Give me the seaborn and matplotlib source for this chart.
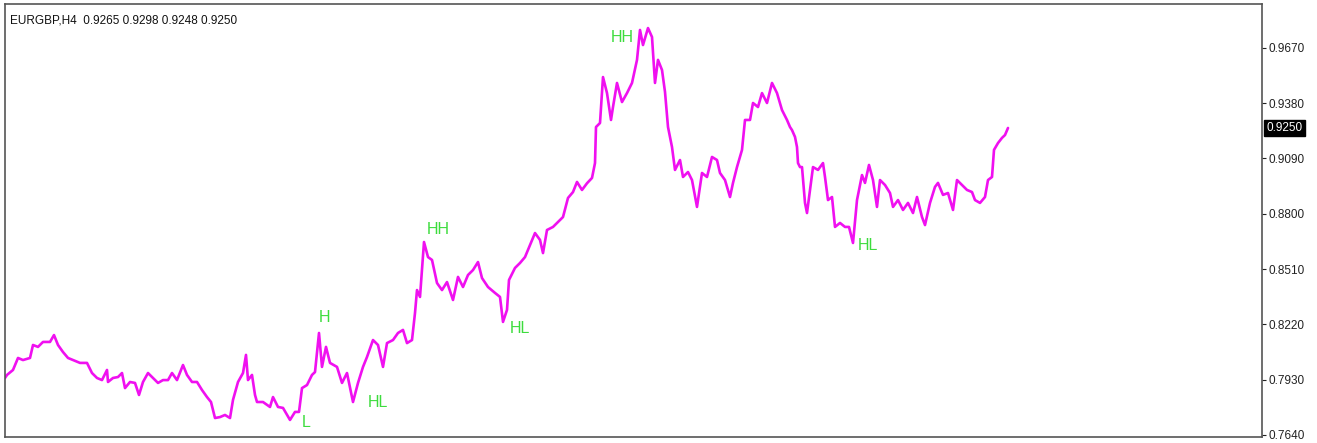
import pandas as pd
import matplotlib
matplotlib.use("Agg")
import matplotlib.pyplot as plt
import matplotlib.transforms as mtransforms
import seaborn as sns

sns.set_style("white")
plt.rcParams['font.family'] = ['Liberation Sans', 'DejaVu Sans']

# datos (barra H4, precio de cierre aprox.)
bar = [0, 2, 8, 13, 18, 25, 28, 33, 38, 45, 49, 53, 58, 63, 68, 75, 82, 87, 92, 97,
       102, 103, 108, 113, 117, 120, 125, 130, 134, 138, 143, 148, 153, 158, 163, 167, 172, 178, 182, 187,
       192, 197, 202, 206, 210, 215, 220, 225, 228, 233, 238, 241, 243, 247, 250, 252, 258, 265, 268, 273,
       278, 285, 290, 294, 297, 302, 307, 310, 314, 317, 321, 325, 332, 337, 342, 348, 353, 358, 362, 368,
       373, 378, 382, 388, 393, 398, 402, 407, 410, 412, 415, 419, 423, 427, 432, 437, 442, 448, 453, 458,
       463, 468, 473, 477, 483, 490, 495, 498, 502, 504, 510, 515, 520, 525, 530, 535, 538, 542, 548, 553,
       558, 563, 568, 572, 577, 582, 587, 590, 591, 595, 598, 602, 606, 608, 612, 617, 622, 627, 632, 635,
       638, 643, 647, 650, 653, 657, 660, 663, 667, 670, 675, 678, 683, 687, 692, 697, 702, 707, 712, 715,
       720, 725, 728, 732, 737, 740, 745, 748, 753, 757, 762, 767, 772, 777, 782, 785, 787, 790, 792, 793,
       795, 797, 800, 802, 805, 808, 813, 818, 820, 823, 827, 830, 835, 840, 844, 848, 852, 857, 860, 864,
       868, 872, 875, 880, 885, 888, 893, 898, 903, 908, 912, 917, 920, 925, 930, 933, 938, 943, 948, 952,
       957, 962, 967, 970, 975, 980, 983, 987, 989, 993, 997, 1000, 1003]
price = [0.7939, 0.7955, 0.7981, 0.8044, 0.8033, 0.8044, 0.8112, 0.8102, 0.8128, 0.8128, 0.8164, 0.8112, 0.8075, 0.8044, 0.8033, 0.8018, 0.8018, 0.7965, 0.7939, 0.7928,
         0.7981, 0.7918, 0.7939, 0.7944, 0.7965, 0.7886, 0.7918, 0.7913, 0.7850, 0.7918, 0.7965, 0.7939, 0.7913, 0.7928, 0.7928, 0.7965, 0.7928, 0.8007, 0.7955, 0.7918,
         0.7918, 0.7876, 0.7839, 0.7813, 0.7729, 0.7734, 0.7745, 0.7729, 0.7824, 0.7918, 0.7965, 0.8060, 0.7928, 0.7955, 0.7850, 0.7813, 0.7813, 0.7787, 0.7839, 0.7787,
         0.7782, 0.7719, 0.7761, 0.7761, 0.7886, 0.7902, 0.7955, 0.7970, 0.8175, 0.7997, 0.8102, 0.8018, 0.7997, 0.7913, 0.7965, 0.7813, 0.7913, 0.7997, 0.8049, 0.8138,
         0.8112, 0.7997, 0.8122, 0.8138, 0.8175, 0.8191, 0.8122, 0.8138, 0.8280, 0.8400, 0.8364, 0.8652, 0.8573, 0.8558, 0.8437, 0.8400, 0.8442, 0.8348, 0.8469, 0.8416,
         0.8479, 0.8505, 0.8547, 0.8463, 0.8416, 0.8385, 0.8364, 0.8233, 0.8296, 0.8453, 0.8516, 0.8542, 0.8573, 0.8636, 0.8699, 0.8663, 0.8594, 0.8715, 0.8731, 0.8757,
         0.8783, 0.8883, 0.8914, 0.8967, 0.8925, 0.8960, 0.8988, 0.9066, 0.9255, 0.9276, 0.9517, 0.9433, 0.9292, 0.9360, 0.9486, 0.9386, 0.9433, 0.9486, 0.9607, 0.9764,
         0.9685, 0.9774, 0.9727, 0.9486, 0.9607, 0.9554, 0.9439, 0.9255, 0.9150, 0.9030, 0.9082, 0.8993, 0.9019, 0.8977, 0.8836, 0.9014, 0.8993, 0.9098, 0.9082, 0.9014,
         0.8977, 0.8888, 0.8962, 0.9045, 0.9135, 0.9292, 0.9292, 0.9381, 0.9360, 0.9433, 0.9381, 0.9486, 0.9433, 0.9344, 0.9292, 0.9255, 0.9239, 0.9203, 0.9150, 0.9066,
         0.9045, 0.9045, 0.8857, 0.8804, 0.8925, 0.9045, 0.9030, 0.9066, 0.8993, 0.8872, 0.8888, 0.8731, 0.8752, 0.8731, 0.8731, 0.8647, 0.8872, 0.9003, 0.8962, 0.9056,
         0.8977, 0.8836, 0.8977, 0.8951, 0.8909, 0.8836, 0.8872, 0.8820, 0.8857, 0.8804, 0.8888, 0.8783, 0.8741, 0.8857, 0.8941, 0.8962, 0.8899, 0.8909, 0.8820, 0.8977,
         0.8951, 0.8925, 0.8914, 0.8872, 0.8857, 0.8888, 0.8977, 0.8993, 0.9135, 0.9171, 0.9198, 0.9213, 0.9250]

# etiquetas de estructura (texto, barra, precio)
swing_txt = ['HH', 'HH', 'H', 'HL', 'HL', 'L', 'HL']
swing_bar = [617, 433, 319, 515, 373, 301, 863]
swing_px = [0.9722, 0.8715, 0.8254, 0.8201, 0.7808, 0.7703, 0.8636]

yticks = [0.7640, 0.7930, 0.8220, 0.8510, 0.8800, 0.9090, 0.9380, 0.9670]
last_price = 0.9250
header = 'EURGBP,H4  0.9265 0.9298 0.9248 0.9250'

df = pd.DataFrame({'bar': bar, 'price': price})

fig = plt.figure(figsize=(13.17, 4.43), dpi=100)
ax = fig.add_axes([5 / 1317, 1 - 437 / 443, 1257 / 1317, 433 / 443])

sns.lineplot(data=df, x='bar', y='price', color='#f010f0', linewidth=1.9, ax=ax)

ax.set_xlim(0, 1257)
ax.set_ylim(0.76295, 0.99001)
ax.set_xlabel('')
ax.set_ylabel('')
ax.set_xticks([])
ax.yaxis.tick_right()
ax.set_yticks(yticks)
ax.set_yticklabels([f'{v:.4f}' for v in yticks])
ax.tick_params(axis='y', direction='out', length=3, width=0.8, colors='#222222',
               labelsize=8.5, pad=2)
for s in ax.spines.values():
    s.set_color('#555555')
    s.set_linewidth(1.2)

for t, b, p in zip(swing_txt, swing_bar, swing_px):
    ax.text(b, p, t, color='#3ddc3d', fontsize=11.5, ha='center', va='center')

ax.text(0.004, 0.975, header, transform=ax.transAxes, fontsize=8.5,
        color='#111111', va='top', ha='left')

# caja negra con el ultimo precio
trans = mtransforms.blended_transform_factory(ax.transAxes, ax.transData)
ax.text(1.0035, last_price, f'{last_price:.4f}', transform=trans, fontsize=8.5,
        color='white', va='center', ha='left',
        bbox=dict(boxstyle='square,pad=0.2', fc='black', ec='black'))

fig.savefig('out.png', dpi=100)
